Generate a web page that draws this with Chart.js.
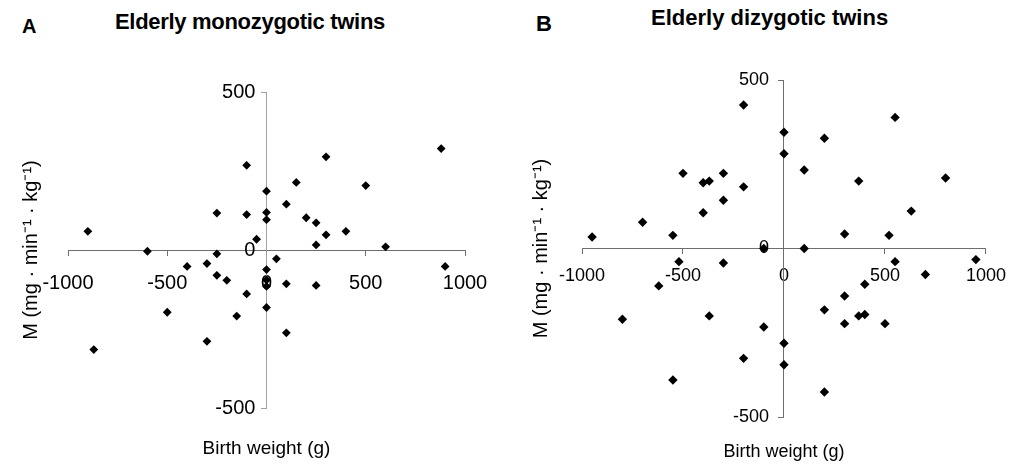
<!DOCTYPE html>
<html>
<head>
<meta charset="utf-8">
<script src="https://cdn.jsdelivr.net/npm/chart.js@4/dist/chart.umd.min.js"></script>
<style>
  body { margin: 0; background: #fff; width: 1018px; height: 464px; position: relative; overflow: hidden; font-family: 'Liberation Sans', Arial, sans-serif; }
  canvas { position: absolute; top: 0; }
  .lbl { position: absolute; font-weight: bold; color: #000; white-space: nowrap; }
</style>
</head>
<body>
<div class="lbl" style="left:22px; top:14px; font-size:20px; line-height:24px;">A</div>
<div class="lbl" style="left:115px; top:10px; font-size:22px; line-height:24px; letter-spacing:-0.3px;">Elderly monozygotic twins</div>
<div class="lbl" style="left:536px; top:11px; font-size:22px; line-height:26px;">B</div>
<div class="lbl" style="left:651px; top:5px; font-size:22px; line-height:26px;">Elderly dizygotic twins</div>
<canvas id="chartA" width="509" height="464" style="left:0px"></canvas>
<canvas id="chartB" width="509" height="464" style="left:509px"></canvas>
<script>
// birth weight difference (g) vs M difference, monozygotic pairs
const monoBirth = [-900, -870, -600, -500, -400, -300, -300, -250, -250, -250, -200, -150, -100, -100, -100, -50,
  0, 0, 0, 0, 0, 0, 0, 50, 100, 100, 100, 150, 200, 250, 250, 250, 300, 300, 400, 500, 600, 880, 900];
const monoM = [59, -315, -4, -197, -52, -43, -289, 117, -12, -80, -96, -209, 268, 112, -139, 34,
  186, 119, 96, -62, -95, -115, -182, -28, 145, -107, -262, 214, 102, 86, 16, -112, 295, 48, 59, 204, 10, 321, -52];

// dizygotic pairs
const diBirth = [-950, -800, -700, -620, -550, -550, -520, -500, -400, -370, -400, -370, -300, -300, -300,
  -200, -200, -200, -100, -100, 0, 0, 0, 0, 100, 100, 200, 200, 200, 300, 300, 300, 370, 370, 400, 400,
  500, 520, 550, 550, 630, 700, 800, 950];
const diM = [34, -210, 78, -111, 39, -390, -39, 223, 195, 200, 106, -200, 223, 143, -43,
  426, 183, -326, -233, 0, 345, 281, -281, -345, 233, 0, 327, -182, -426, 43, -141, -223, 200, -200, -196, -106,
  -223, 39, 389, -39, 111, -77, 209, -33];

const xTicks = [-1000, -500, 0, 500, 1000];
const yTicks = [-500, 0, 500];
const xTitle = 'Birth weight (g)';
const yTitle = 'M (mg · min⁻¹ · kg⁻¹)';

const FONT = "'Liberation Sans', Arial, sans-serif";

function makeChart(id, xs, ys, s) {
  const pts = xs.map((x, i) => ({ x: x, y: ys[i] }));
  return new Chart(document.getElementById(id), {
    type: 'scatter',
    data: {
      datasets: [{
        data: pts,
        pointStyle: 'rectRot',
        pointRadius: s.r,
        pointHoverRadius: s.r,
        backgroundColor: '#000',
        borderColor: '#000',
        borderWidth: 0
      }]
    },
    options: {
      responsive: false,
      animation: false,
      layout: { padding: { top: s.top, right: s.right, left: 0, bottom: 0 } },
      plugins: { legend: { display: false }, tooltip: { enabled: false } },
      scales: {
        x: {
          type: 'linear',
          position: { y: 0 },
          min: -1000, max: 1000,
          afterBuildTicks: ax => { ax.ticks = xTicks.map(v => ({ value: v })); },
          ticks: { color: '#000', font: { family: FONT, size: s.tick }, padding: s.xPad, maxRotation: 0,
                   callback: v => String(v) },
          grid: { drawOnChartArea: false, drawTicks: true, tickLength: 5, color: s.xCol },
          border: { display: true, color: s.xCol, width: 1 }
        },
        y: {
          type: 'linear',
          position: { x: 0 },
          min: -500, max: 500,
          afterBuildTicks: ax => { ax.ticks = yTicks.map(v => ({ value: v })); },
          // centred axis puts labels flush to the line, so pad with spaces
          ticks: { color: '#000', font: { family: FONT, size: s.tick }, callback: v => String(v) + s.gap },
          grid: { drawOnChartArea: false, drawTicks: true, tickLength: 5, color: s.yCol },
          border: { display: true, color: s.yCol, width: 1 }
        },
        xt: {
          type: 'linear',
          position: 'bottom',
          ticks: { display: false },
          grid: { display: false },
          border: { display: false },
          title: { display: true, text: xTitle, color: '#000', font: { family: FONT, size: s.xtSize }, padding: { top: 0, bottom: s.xtPad } },
          afterFit: ax => { ax.height = s.bottom; }
        },
        yt: {
          type: 'linear',
          position: 'left',
          ticks: { display: false },
          grid: { display: false },
          border: { display: false },
          title: { display: true, text: yTitle, color: '#000', font: { family: FONT, size: 20 }, padding: { top: s.ytPad, bottom: 0 } },
          afterFit: ax => { ax.width = s.left; }
        }
      }
    }
  });
}

makeChart('chartA', monoBirth, monoM, {
  r: 4.4, top: 92, right: 44, left: 68, bottom: 56,
  tick: 20, xPad: 16, gap: '  ', xCol: '#6e6e6e', yCol: '#a0a0a0',
  xtSize: 19, xtPad: 4, ytPad: 19
});

makeChart('chartB', diBirth, diM, {
  r: 4.7, top: 80, right: 31, left: 73, bottom: 47,
  tick: 18, xPad: 12, gap: '   ', xCol: '#6e6e6e', yCol: '#6e6e6e',
  xtSize: 18, xtPad: 1, ytPad: 20
});
</script>
</body>
</html>
